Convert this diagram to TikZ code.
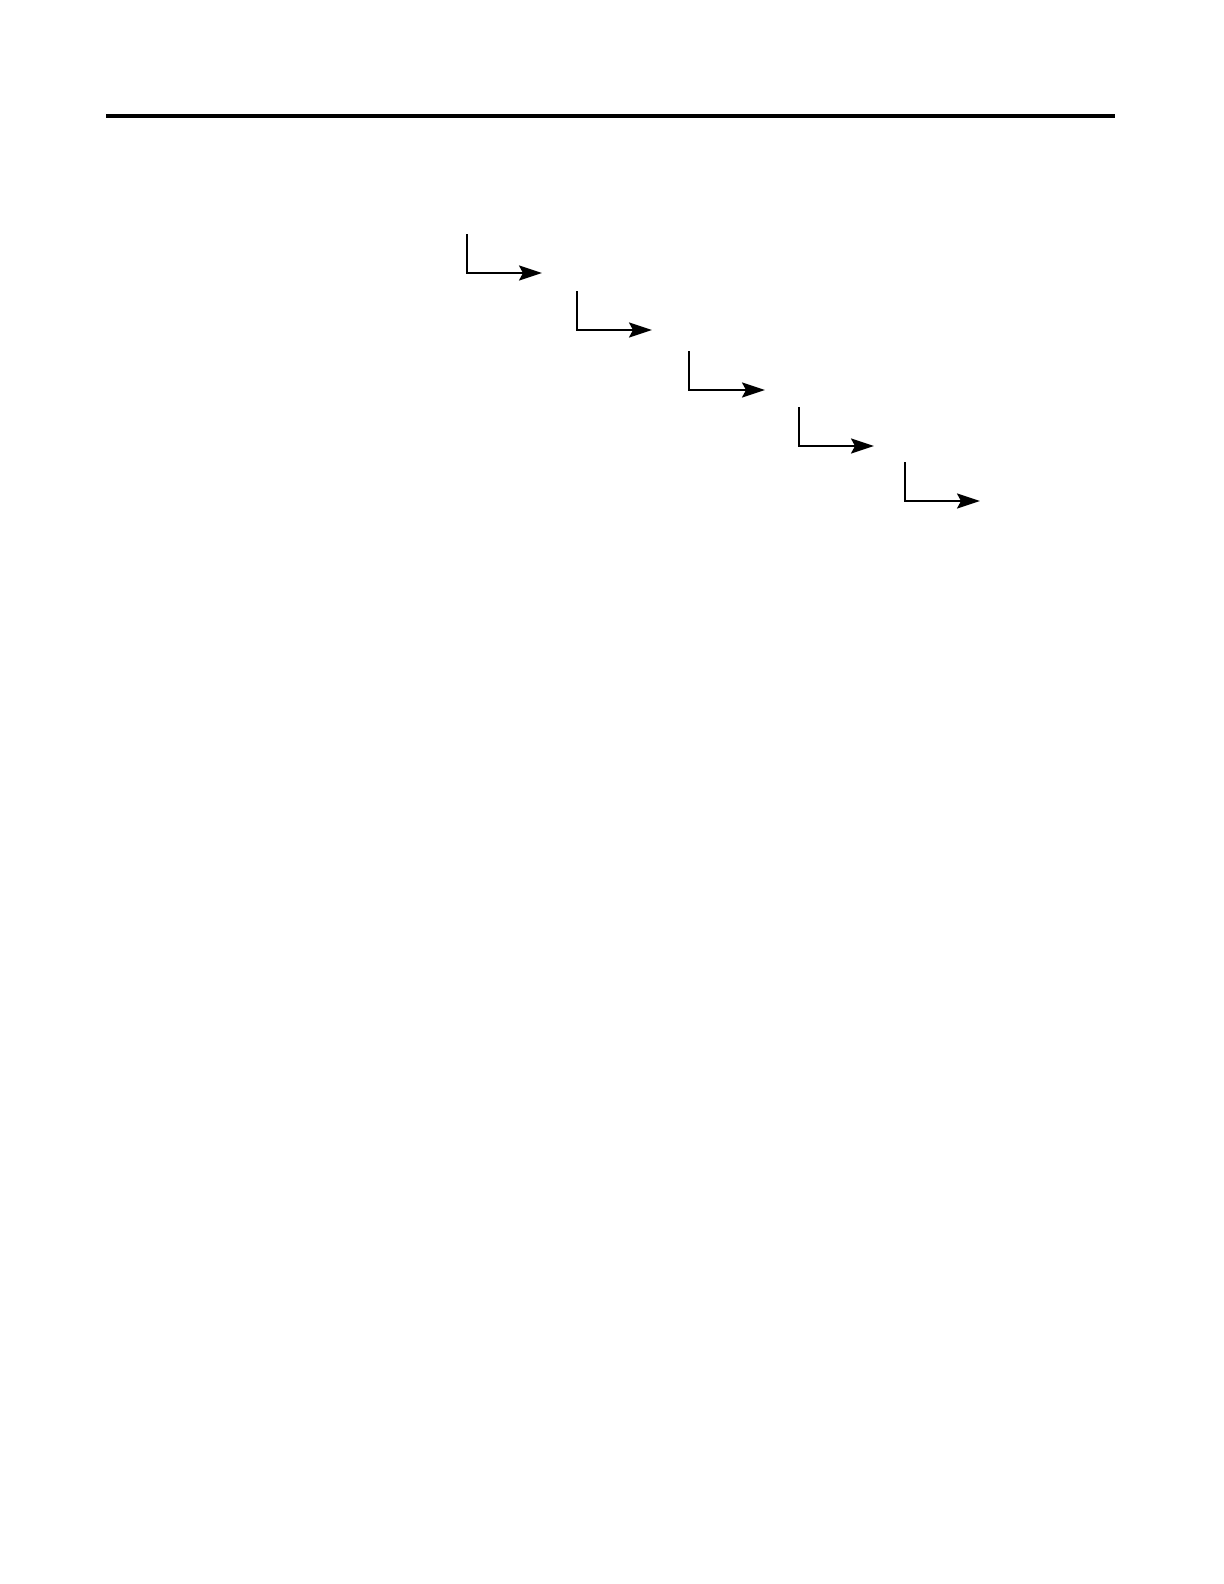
\documentclass[tikz,border=0pt]{standalone}
\usetikzlibrary{arrows.meta}
\begin{document}
\begin{tikzpicture}[x=0.5pt,y=-0.5pt,
  rule/.style={line width=2pt,line cap=butt},
  elbow/.style={line width=1pt,-{Stealth[length=11.5pt,width=7.5pt,inset=2pt]}}]
\useasboundingbox (0,0) rectangle (1224,1584);
\coordinate (rl) at (106,116);
\coordinate (rr) at (1115,116);
\draw[rule] (rl) -- (rr);
\coordinate (s1) at (467,234); \coordinate (e1) at (542,273);
\coordinate (s2) at (577,291); \coordinate (e2) at (652,330);
\coordinate (s3) at (689,351); \coordinate (e3) at (765,390);
\coordinate (s4) at (799,407); \coordinate (e4) at (874,446);
\coordinate (s5) at (905,462); \coordinate (e5) at (980,501);
\foreach \i in {1,...,5} { \draw[elbow] (s\i) |- (e\i); }
\end{tikzpicture}
\end{document}
